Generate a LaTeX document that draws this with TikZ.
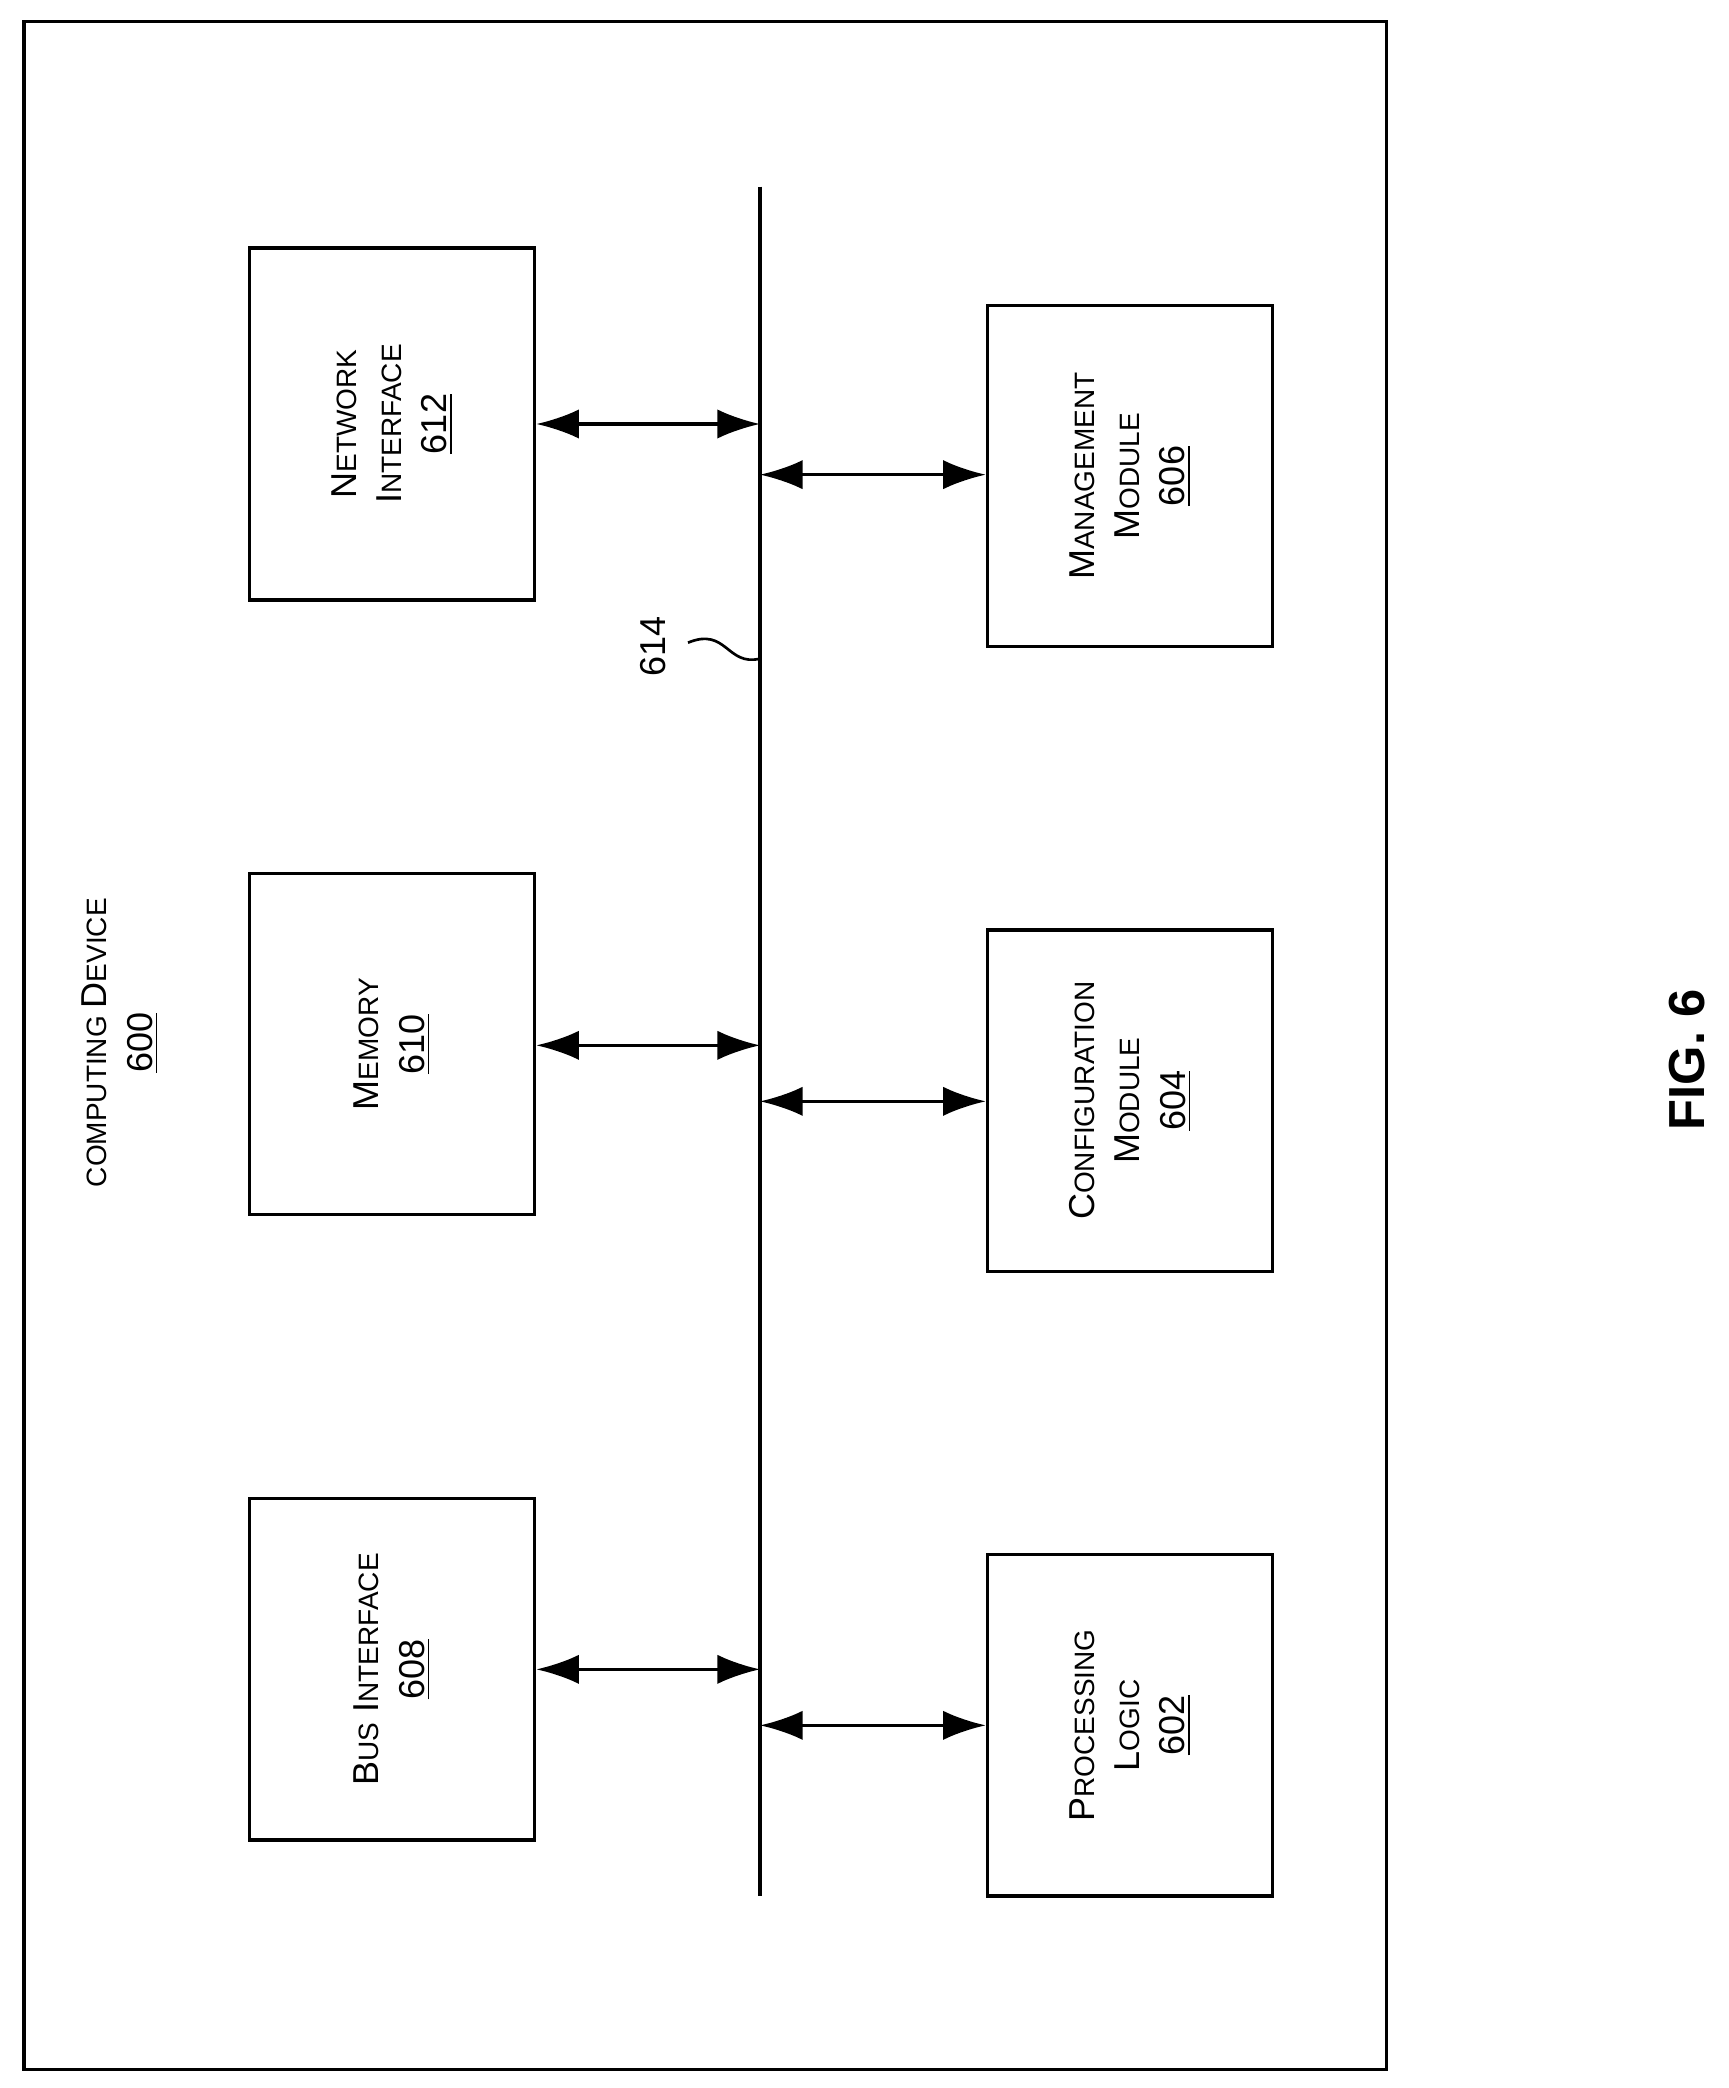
\documentclass[tikz,border=0pt]{standalone}
\usepackage{fontspec}
\setmainfont{Liberation Sans}
\usetikzlibrary{arrows.meta}
\newcommand{\fsc}[2]{#1{\fontsize{10.5}{12}\selectfont #2}}
\begin{document}
\begin{tikzpicture}[x=0.5pt,y=-0.5pt,
  box/.style={draw,line width=1.2pt,minimum width=107pt,minimum height=128pt,inner sep=0pt},
  lbl/.style={rotate=90,align=center,font=\fontsize{13.5}{17}\selectfont},
  arr/.style={{Latex[length=16pt,width=11pt]}-{Latex[length=16pt,width=11pt]},line width=1.2pt}]
\useasboundingbox (0,0) rectangle (1296,1566);
\draw[line width=1.2pt] (18,16) rectangle (1040,1552);
\coordinate (bt) at (570,140); \coordinate (bb) at (570,1422);
\draw[line width=1.2pt] (bt) -- (bb);
% left
\node[box,minimum height=132pt] (ni) at (294,318) {};
\node[box] (me) at (294,783) {};
\node[box] (bi) at (294,1252) {};
% right
\node[box] (mm) at (847.5,357) {};
\node[box] (cm) at (847.5,825.5) {};
\node[box] (pl) at (847.5,1294) {};
\node[lbl] at (ni) {\fsc{N}{ETWORK}\\\fsc{I}{NTERFACE}\\\underline{612}};
\node[lbl] at (me) {\fsc{M}{EMORY}\\\underline{610}};
\node[lbl] at (bi) {\fsc{B}{US} \fsc{I}{NTERFACE}\\\underline{608}};
\node[lbl] at (mm) {\fsc{M}{ANAGEMENT}\\\fsc{M}{ODULE}\\\underline{606}};
\node[lbl] at (cm) {\fsc{C}{ONFIGURATION}\\\fsc{M}{ODULE}\\\underline{604}};
\node[lbl] at (pl) {\fsc{P}{ROCESSING}\\\fsc{L}{OGIC}\\\underline{602}};
\foreach \n/\y in {ni/318,me/784,bi/1252}{
  \coordinate (b\n) at (570,\y);
  \draw[arr] (\n.east |- b\n) -- (b\n);}
\foreach \n/\y in {mm/356,cm/826,pl/1294}{
  \coordinate (b\n) at (570,\y);
  \draw[arr] (b\n) -- (\n.west |- b\n);}
\node[lbl] (cd) at (90,782) {{\fontsize{10.5}{12}\selectfont COMPUTING }\fsc{D}{EVICE}\\\underline{600}};
\node[lbl] (n614) at (490,485) {614};
\coordinate (s1) at (516,482);
\coordinate (s2) at (570,494);
\draw[line width=1pt] (s1) .. controls (545,470) and (545,500) .. (s2);
\node[rotate=90,font=\bfseries\fontsize{19}{22}\selectfont] (fig) at (1265,795) {FIG. 6};
\end{tikzpicture}
\end{document}
